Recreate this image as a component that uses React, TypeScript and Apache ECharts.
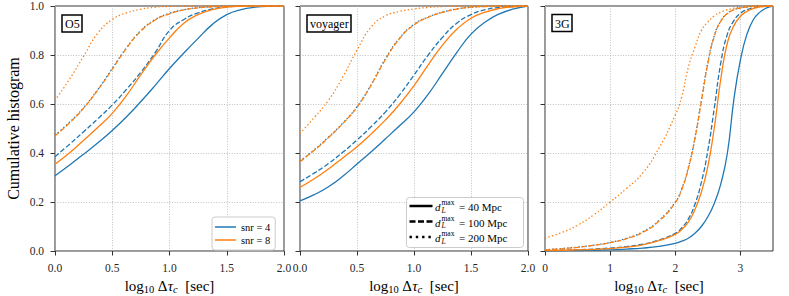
import React, { useEffect, useRef } from "react";
import * as echarts from "echarts";

// ---------- data ----------
const panelNames = ["O5", "voyager", "3G"];
const snrNames = ["snr = 4", "snr = 8"];
const distances = [40, 100, 200];

const xTicksA = [0, 0.125, 0.25, 0.375, 0.5, 0.625, 0.75, 0.875, 1.0, 1.125, 1.25, 1.375, 1.5, 1.625, 1.75, 1.875, 2.0];
const x3G = [0, 0.25, 0.5, 0.75, 1.0, 1.25, 1.5, 1.75, 2.0, 2.1, 2.2, 2.3, 2.4, 2.5, 2.6, 2.7, 2.8, 2.9, 3.0, 3.1, 3.2, 3.3, 3.4, 3.5];

// O5
const o5_snr4_d40 = [0.307, 0.35, 0.395, 0.442, 0.492, 0.548, 0.61, 0.676, 0.745, 0.808, 0.868, 0.925, 0.965, 0.985, 0.995, 0.999, 1.0];
const o5_snr8_d40 = [0.354, 0.4, 0.452, 0.505, 0.562, 0.635, 0.72, 0.8, 0.87, 0.93, 0.965, 0.985, 0.995, 0.999, 1.0, 1.0, 1.0];
const o5_snr4_d100 = [0.385, 0.435, 0.487, 0.54, 0.596, 0.66, 0.73, 0.81, 0.9, 0.945, 0.972, 0.988, 0.996, 0.999, 1.0, 1.0, 1.0];
const o5_snr8_d100 = [0.47, 0.522, 0.583, 0.658, 0.742, 0.828, 0.897, 0.943, 0.968, 0.984, 0.992, 0.997, 0.999, 1.0, 1.0, 1.0, 1.0];
const o5_snr4_d200 = [0.473, 0.525, 0.585, 0.66, 0.745, 0.83, 0.9, 0.945, 0.97, 0.985, 0.993, 0.997, 1.0, 1.0, 1.0, 1.0, 1.0];
const o5_snr8_d200 = [0.615, 0.7, 0.795, 0.89, 0.945, 0.972, 0.987, 0.995, 0.998, 1.0, 1.0, 1.0, 1.0, 1.0, 1.0, 1.0, 1.0];

// voyager
const voy_snr4_d40 = [0.205, 0.23, 0.262, 0.305, 0.355, 0.405, 0.458, 0.512, 0.568, 0.64, 0.725, 0.81, 0.885, 0.935, 0.968, 0.988, 1.0];
const voy_snr8_d40 = [0.26, 0.295, 0.335, 0.38, 0.426, 0.478, 0.535, 0.6, 0.675, 0.76, 0.84, 0.905, 0.95, 0.975, 0.99, 0.997, 1.0];
const voy_snr4_d100 = [0.283, 0.318, 0.357, 0.403, 0.453, 0.508, 0.568, 0.638, 0.718, 0.8, 0.872, 0.93, 0.965, 0.985, 0.994, 0.998, 1.0];
const voy_snr8_d100 = [0.365, 0.411, 0.463, 0.52, 0.587, 0.678, 0.782, 0.868, 0.923, 0.954, 0.974, 0.987, 0.995, 0.998, 1.0, 1.0, 1.0];
const voy_snr4_d200 = [0.367, 0.413, 0.465, 0.522, 0.589, 0.68, 0.785, 0.87, 0.925, 0.955, 0.975, 0.988, 0.995, 0.998, 1.0, 1.0, 1.0];
const voy_snr8_d200 = [0.48, 0.545, 0.615, 0.71, 0.82, 0.915, 0.96, 0.978, 0.988, 0.994, 0.998, 1.0, 1.0, 1.0, 1.0, 1.0, 1.0];

// 3G
const g3_snr4_d40 = [0.0, 0.001, 0.002, 0.003, 0.005, 0.008, 0.012, 0.019, 0.031, 0.04, 0.052, 0.072, 0.1, 0.14, 0.195, 0.275, 0.4, 0.62, 0.78, 0.885, 0.945, 0.975, 0.992, 1.0];
const g3_snr8_d40 = [0.002, 0.003, 0.005, 0.007, 0.01, 0.016, 0.025, 0.042, 0.068, 0.088, 0.118, 0.168, 0.24, 0.345, 0.505, 0.705, 0.85, 0.92, 0.958, 0.978, 0.99, 0.996, 0.999, 1.0];
const g3_snr4_d100 = [0.002, 0.003, 0.005, 0.008, 0.012, 0.018, 0.028, 0.045, 0.072, 0.095, 0.13, 0.19, 0.28, 0.41, 0.585, 0.77, 0.885, 0.94, 0.97, 0.985, 0.993, 0.997, 0.999, 1.0];
const g3_snr8_d100 = [0.004, 0.009, 0.015, 0.023, 0.034, 0.05, 0.076, 0.122, 0.197, 0.252, 0.336, 0.456, 0.61, 0.765, 0.877, 0.938, 0.969, 0.984, 0.992, 0.996, 0.999, 1.0, 1.0, 1.0];
const g3_snr4_d200 = [0.005, 0.01, 0.016, 0.024, 0.035, 0.052, 0.078, 0.125, 0.2, 0.255, 0.34, 0.46, 0.615, 0.77, 0.88, 0.94, 0.97, 0.985, 0.992, 0.996, 0.999, 1.0, 1.0, 1.0];
const g3_snr8_d200 = [0.052, 0.075, 0.105, 0.148, 0.2, 0.255, 0.318, 0.42, 0.555, 0.63, 0.75, 0.83, 0.9, 0.935, 0.96, 0.975, 0.985, 0.991, 0.995, 0.998, 1.0, 1.0, 1.0, 1.0];

const yTicks = [0, 0.2, 0.4, 0.6, 0.8, 1.0];
const xTicks3G = [0, 1, 2, 3];

// ---------- styling ----------
const FONT = '"Liberation Serif", "DejaVu Serif", serif';
const BLUE = "#1f77b4";
const ORANGE = "#ff7f0e";
const DASHES: any[] = ["solid", [5, 2.2], [1.4, 2.3]];

const panels = [
  { x: xTicksA, curves: [[o5_snr4_d40, o5_snr8_d40], [o5_snr4_d100, o5_snr8_d100], [o5_snr4_d200, o5_snr8_d200]] },
  { x: xTicksA, curves: [[voy_snr4_d40, voy_snr8_d40], [voy_snr4_d100, voy_snr8_d100], [voy_snr4_d200, voy_snr8_d200]] },
  { x: x3G, curves: [[g3_snr4_d40, g3_snr8_d40], [g3_snr4_d100, g3_snr8_d100], [g3_snr4_d200, g3_snr8_d200]] },
];

const gridPos = [
  { left: 55, width: 229 },
  { left: 300, width: 228 },
  { left: 545, width: 228 },
];

const xName = "{a|log}{s|10}{a| Δ}{i|τ}{si|c}{a|  [sec]}";
const nameRich = {
  a: { fontFamily: FONT, fontSize: 15, lineHeight: 18, color: "#000" },
  i: { fontFamily: FONT, fontSize: 15, lineHeight: 18, fontStyle: "italic", color: "#000" },
  s: { fontFamily: FONT, fontSize: 10.5, lineHeight: 10, verticalAlign: "bottom", color: "#000" },
  si: { fontFamily: FONT, fontSize: 10.5, lineHeight: 10, verticalAlign: "bottom", fontStyle: "italic", color: "#000" },
};

function buildOption() {
  const grid = gridPos.map((g) => ({
    left: g.left,
    top: 6,
    width: g.width,
    height: 245,
    show: true,
    borderColor: "#333",
    borderWidth: 1,
    backgroundColor: "transparent",
    containLabel: false,
    outerBoundsMode: "none",
  }));
  const tickStyle = { show: true, length: 4.5, lineStyle: { color: "#333", width: 1 } };
  const split = { show: true, lineStyle: { color: "#b0b0b0", width: 0.8, type: [1, 1.6] } };
  const labelBase = { fontFamily: FONT, fontSize: 11.5, color: "#262626" };

  const xAxis = [0, 1, 2].map((i) => {
    const is3G = i === 2;
    const ax: any = {
      type: "value",
      gridIndex: i,
      min: 0,
      max: is3G ? 3.5 : 2,
      interval: is3G ? 1 : 0.5,
      axisLine: { show: false },
      axisTick: is3G ? { ...tickStyle, customValues: xTicks3G } : tickStyle,
      axisLabel: {
        ...labelBase,
        margin: 11,
        showMinLabel: true,
        showMaxLabel: true,
        formatter: (v: number) => (is3G ? (v > 3.01 ? "" : String(v)) : v.toFixed(1)),
        ...(is3G ? { customValues: xTicks3G } : {}),
      },
      splitLine: split,
      name: xName,
      nameLocation: "middle",
      nameGap: 26,
      nameTextStyle: { fontFamily: FONT, fontSize: 15, color: "#000", rich: nameRich },
    };
    return ax;
  });

  const yAxis = [0, 1, 2].map((i) => ({
    type: "value",
    gridIndex: i,
    min: yTicks[0],
    max: yTicks[yTicks.length - 1],
    interval: 0.2,
    axisLine: { show: false },
    axisTick: tickStyle,
    axisLabel: { ...labelBase, show: i === 0, margin: 11, formatter: (v: number) => v.toFixed(1) },
    splitLine: split,
    name: i === 0 ? "Cumulative histogram" : "",
    nameLocation: "middle",
    nameGap: 34,
    nameRotate: 90,
    nameTextStyle: { fontFamily: FONT, fontSize: 16, color: "#000" },
  }));

  const series: any[] = [];
  panels.forEach((p, pi) => {
    p.curves.forEach((pair, di) => {
      pair.forEach((ys, si) => {
        series.push({
          type: "line",
          name: snrNames[si],
          xAxisIndex: pi,
          yAxisIndex: pi,
          data: p.x.map((x, k) => [x, ys[k]]),
          symbol: "none",
          showSymbol: false,
          smooth: 0.5,
          lineStyle: { color: si === 0 ? BLUE : ORANGE, width: 1.3, type: DASHES[di] },
          itemStyle: { color: si === 0 ? BLUE : ORANGE },
          z: 2 + si,
          silent: true,
        });
      });
    });
  });

  const titlePos = [
    { left: 62, top: 15 },
    { left: 307, top: 15 },
    { left: 552, top: 14.5 },
  ];
  const title = panelNames.map((t, i) => ({
    text: t,
    left: titlePos[i].left,
    top: titlePos[i].top,
    padding: [2, 3, 1, 3],
    borderColor: "#000",
    borderWidth: 1.5,
    backgroundColor: "#fff",
    textStyle: { fontFamily: FONT, fontSize: 12, fontWeight: "normal", color: "#000", lineHeight: 14 },
  }));

  // second legend (line styles), drawn as graphic
  const lx = 406.5, ly = 197.5;
  const rows = [206, 221.5, 237];
  const lineDashes: any[] = [null, [6, 2.5], [2.4, 3.9]];
  const graphicEls: any[] = [
    { type: "rect", shape: { x: lx, y: ly, width: 117, height: 50, r: 3 }, style: { fill: "rgba(255,255,255,0.85)", stroke: "#cccccc", lineWidth: 1 }, z: 100, silent: true },
  ];
  distances.forEach((d, k) => {
    const ry = rows[k];
    graphicEls.push({ type: "line", shape: { x1: 409.5, y1: ry, x2: 432.5, y2: ry }, style: { stroke: "#000", lineWidth: 2.5, lineDash: lineDashes[k] }, z: 101, silent: true });
    graphicEls.push({ type: "text", x: 435, y: ry + 1, style: { text: "d", fontFamily: FONT, fontSize: 11, fontStyle: "italic", fill: "#000", verticalAlign: "middle" }, z: 101, silent: true });
    graphicEls.push({ type: "text", x: 441.5, y: ry - 3.5, style: { text: "max", fontFamily: FONT, fontSize: 7.5, fill: "#000", verticalAlign: "middle" }, z: 101, silent: true });
    graphicEls.push({ type: "text", x: 441.5, y: ry + 4, style: { text: "L", fontFamily: FONT, fontSize: 7.5, fontStyle: "italic", fill: "#000", verticalAlign: "middle" }, z: 101, silent: true });
    graphicEls.push({ type: "text", x: 459, y: ry + 1, style: { text: "= " + d + " Mpc", fontFamily: FONT, fontSize: 11, fill: "#000", verticalAlign: "middle" }, z: 101, silent: true });
  });

  return {
    animation: false,
    backgroundColor: "#fff",
    title,
    grid,
    xAxis,
    yAxis,
    legend: {
      data: snrNames.map((n) => ({ name: n, icon: "rect" })),
      orient: "vertical",
      left: 212,
      top: 217,
      padding: [4, 5, 4, 3],
      itemWidth: 21,
      itemHeight: 1.5,
      itemGap: 1,
      selectedMode: false,
      textStyle: { fontFamily: FONT, fontSize: 10.5, color: "#000", lineHeight: 12 },
      backgroundColor: "rgba(255,255,255,0.85)",
      borderColor: "#cccccc",
      borderWidth: 1,
      borderRadius: 3,
    },
    graphic: { elements: graphicEls },
    series,
  };
}

export default function App() {
  const ref = useRef<HTMLDivElement>(null);
  useEffect(() => {
    if (!ref.current) return;
    const chart = echarts.init(ref.current, null, { renderer: "svg" });
    chart.setOption(buildOption() as any);
    return () => chart.dispose();
  }, []);
  return <div ref={ref} style={{ position: "fixed", left: 0, top: 0, width: 789, height: 296 }} />;
}
